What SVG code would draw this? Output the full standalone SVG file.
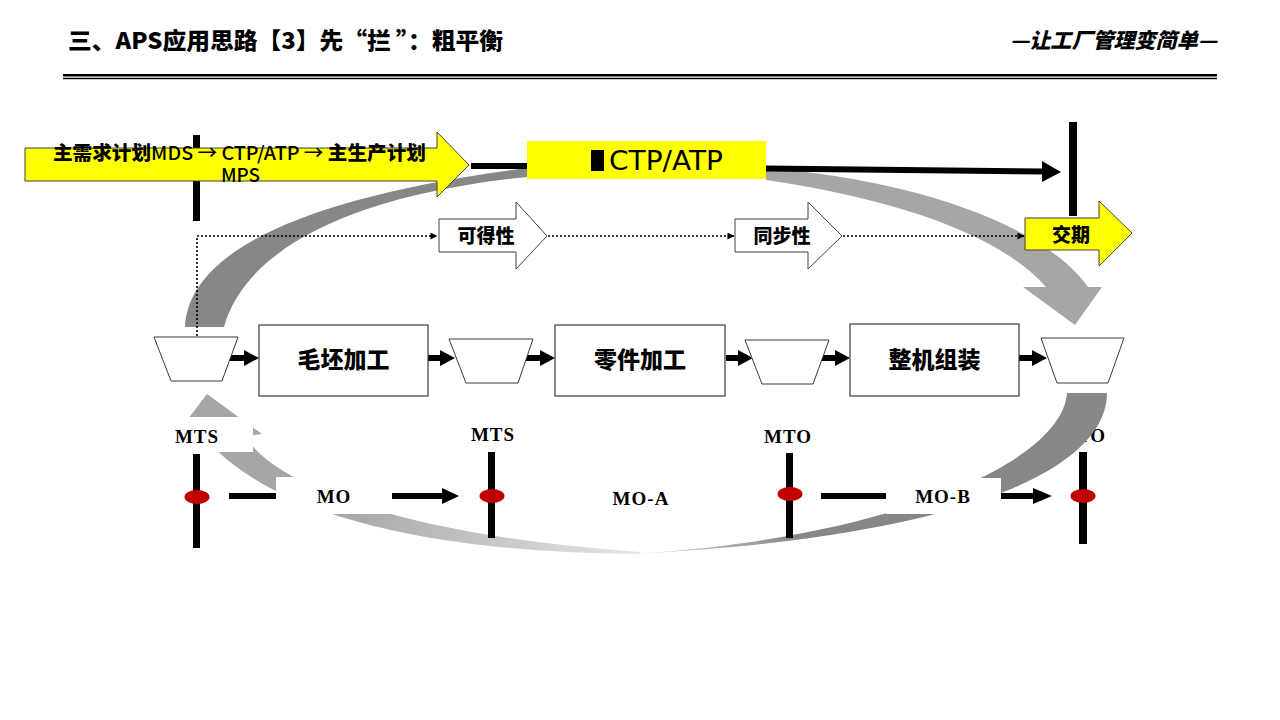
<svg xmlns="http://www.w3.org/2000/svg" width="1280" height="720" viewBox="0 0 1280 720">
<defs>
<marker id="tri" viewBox="0 0 8 8" refX="7.5" refY="4" markerWidth="7" markerHeight="7" orient="auto" markerUnits="userSpaceOnUse"><path d="M0,0 L8,4 L0,8 Z" fill="#000"/></marker>
<linearGradient id="gl" gradientUnits="userSpaceOnUse" x1="640" y1="0" x2="340" y2="0">
<stop offset="0" stop-color="#e6e6e6"/><stop offset="1" stop-color="#a6a6a6"/>
</linearGradient>
<linearGradient id="gd" gradientUnits="userSpaceOnUse" x1="640" y1="0" x2="800" y2="0">
<stop offset="0" stop-color="#d8d8d8"/><stop offset="1" stop-color="#878787"/>
</linearGradient>
</defs>
<style>
.cjk{font-family:"Noto Sans CJK SC","Noto Sans",sans-serif;font-weight:900;fill:#000}
.lat{font-family:"Noto Sans CJK SC","Noto Sans",sans-serif;font-weight:500;fill:#000}
.ser{font-family:"Liberation Serif","Times New Roman",serif;font-weight:bold;font-size:19px;letter-spacing:1px;fill:#000;text-anchor:middle}
.box{fill:#fff;stroke:#3a3a3a;stroke-width:1.2}
.trap{fill:#fff;stroke:#3a3a3a;stroke-width:1}
.blk{fill:#000}
.dark{fill:#878787}
.light{fill:#a6a6a6}
.dot{fill:none;stroke:#000;stroke-width:1.6;stroke-dasharray:2 2}
.red{fill:#c00000}
.wb{fill:#fff}
.yel{fill:#ffff00;stroke:#404040;stroke-width:1}
.warr{fill:#fff;stroke:#404040;stroke-width:1}
</style>
<rect width="1280" height="720" fill="#fff"/>

<g id="header">
<text class="cjk" x="68" y="49" font-size="23" textLength="435" lengthAdjust="spacingAndGlyphs">三、APS应用思路【3】先“拦 ”：粗平衡</text>
<text class="cjk" x="1010" y="48" font-size="21" font-style="italic" textLength="207" lengthAdjust="spacingAndGlyphs">—让工厂管理变简单—</text>
<rect x="63" y="74" width="1154" height="2.5" fill="#000"/>
<rect x="63" y="77.8" width="1154" height="1.4" fill="#000"/>
</g>

<text id="label-mto-2" class="ser" x="1082" y="442">MTO</text>

<g id="cycle">
<path class="dark" d="M185,327 C188,260 280,200 527,168 L527,177 C350,195 245,250 224,327 Z"/>
<path class="light" d="M766,168 C900,178 1040,220 1088,287 L1102,287 L1075,325 L1023,287 L1046,287 C1000,235 900,200 766,180 Z"/>
<path fill="url(#gd)" d="M1107,393 C1107,470 960,538 630,554 C880,540 1062,465 1067,393 Z"/>
<path fill="url(#gl)" d="M640,554 C460,553 280,525 205,438 L172,440 L207,394 L262,434 L245,436 C275,485 400,535 640,552 Z"/>
</g>

<rect id="bar-left" x="193" y="135" width="7" height="86" class="blk"/>

<g id="connectors">
<path class="dot" d="M197,336 V236 H437" marker-end="url(#tri)"/>
<path class="dot" d="M548,236 H734" marker-end="url(#tri)"/>
<path class="dot" d="M843,236 H1024" marker-end="url(#tri)"/>
<path d="M471,166 H528" stroke="#000" stroke-width="6" fill="none"/>
<path d="M766,168.5 L1044,171.5" stroke="#000" stroke-width="6" fill="none"/>
<polygon points="1042,161 1061,172 1042,182" class="blk"/>
<rect x="1069" y="122" width="8" height="94" class="blk"/>
<g id="proc-arrows" class="blk">
<rect x="229" y="355" width="17" height="6"/><polygon points="244,350 259,358 244,366"/>
<rect x="428" y="355" width="14" height="6"/><polygon points="440,350 455,358 440,366"/>
<rect x="525" y="355" width="17" height="6"/><polygon points="540,350 555,358 540,366"/>
<rect x="726" y="355" width="14" height="6"/><polygon points="738,350 753,358 738,366"/>
<rect x="822" y="355" width="15" height="6"/><polygon points="835,350 850,358 835,366"/>
<rect x="1019" y="355" width="15" height="6"/><polygon points="1032,350 1047,358 1032,366"/>
</g>
<g id="bottom-lines" class="blk">
<rect x="193" y="454" width="7" height="94"/>
<rect x="488" y="452" width="7" height="86"/>
<rect x="786" y="453" width="7" height="85"/>
<rect x="1079" y="452" width="8" height="92"/>
<rect x="229" y="493" width="215" height="6"/><polygon points="442,488 459,496 442,504"/>
<rect x="821" y="493" width="214" height="6"/><polygon points="1033,488 1052,496 1033,504"/>
</g>
</g>

<g id="node-mds-mps">
<polygon class="yel" points="25,148 437,148 437,132 469,165 437,197 437,181 25,181"/>
<text x="53" y="160" font-size="19" textLength="373" lengthAdjust="spacingAndGlyphs"><tspan class="cjk">主需求计划</tspan><tspan class="lat">MDS → CTP/ATP → </tspan><tspan class="cjk">主生产计划</tspan></text>
<text class="lat" x="221" y="182" font-size="19" textLength="39" lengthAdjust="spacingAndGlyphs">MPS</text>
</g>

<g id="node-ctp">
<rect x="527" y="141" width="239" height="38" fill="#ffff00"/>
<rect x="591" y="150" width="13" height="21" fill="#000"/>
<text x="609" y="170" font-family="DejaVu Sans, Verdana, sans-serif" font-size="26" textLength="114" lengthAdjust="spacingAndGlyphs" fill="#000">CTP/ATP</text>
</g>

<g id="node-kedexing">
<polygon class="warr" points="439,219 516,219 516,202 547,236 516,269 516,252 439,252"/>
<text class="cjk" x="486" y="243" font-size="19" text-anchor="middle">可得性</text>
</g>
<g id="node-tongbuxing">
<polygon class="warr" points="735,219 808,219 808,202 842,236 808,269 808,252 735,252"/>
<text class="cjk" x="782" y="243" font-size="19" text-anchor="middle">同步性</text>
</g>
<g id="node-jiaoqi">
<polygon class="yel" points="1025,218 1099,218 1099,201 1132,233 1099,266 1099,250 1025,250"/>
<text class="cjk" x="1071" y="242" font-size="19" text-anchor="middle">交期</text>
</g>

<g id="node-buffer1"><polygon class="trap" points="154,337 238,337 222,381 171,381"/></g>
<g id="node-maopi"><rect class="box" x="259" y="325" width="169" height="71"/><text class="cjk" x="343.5" y="368" font-size="23" text-anchor="middle">毛坯加工</text></g>
<g id="node-buffer2"><polygon class="trap" points="449,339 533,339 518,383 466,383"/></g>
<g id="node-lingjian"><rect class="box" x="555" y="325" width="170" height="71"/><text class="cjk" x="640" y="368" font-size="23" text-anchor="middle">零件加工</text></g>
<g id="node-buffer3"><polygon class="trap" points="745,340 829,340 813,384 762,384"/></g>
<g id="node-zhengji"><rect class="box" x="850" y="324" width="169" height="72"/><text class="cjk" x="934.5" y="368" font-size="23" text-anchor="middle">整机组装</text></g>
<g id="node-buffer4"><polygon class="trap" points="1041,338 1124,338 1108,383 1057,383"/></g>

<g id="node-mts-1"><rect class="wb" x="170" y="417" width="83" height="35"/><text class="ser" x="197" y="443">MTS</text></g>
<g id="node-mts-2"><text class="ser" x="493" y="441">MTS</text></g>
<g id="node-mto-1"><text class="ser" x="788" y="443">MTO</text></g>
<g id="node-mo"><rect class="wb" x="276" y="477" width="116" height="37"/><text class="ser" x="334" y="503">MO</text></g>
<g id="node-moa"><text class="ser" x="641" y="505">MO-A</text></g>
<g id="node-mob"><rect class="wb" x="886" y="478" width="115" height="36"/><text class="ser" x="943" y="503">MO-B</text></g>

<g id="markers">
<ellipse class="red" cx="197" cy="497" rx="12.5" ry="7"/>
<ellipse class="red" cx="492" cy="496" rx="12.5" ry="7"/>
<ellipse class="red" cx="790" cy="494" rx="12.5" ry="7"/>
<ellipse class="red" cx="1083" cy="496" rx="12.5" ry="7"/>
</g>
</svg>
